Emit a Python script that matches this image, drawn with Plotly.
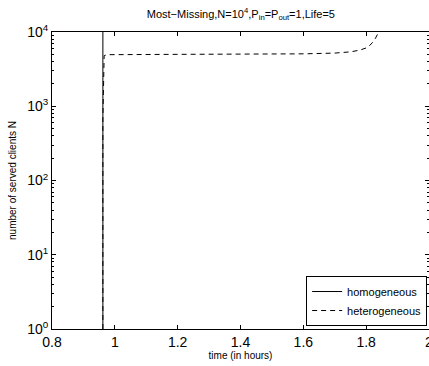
import plotly.graph_objects as go

# Data
hom_x = [0.962, 0.962, 0.962]
hom_y = [1, 5000, 10000]

het_x = [0.962, 0.962, 0.966, 0.975, 1.2, 1.4, 1.6, 1.7, 1.75, 1.78, 1.80, 1.81, 1.82, 1.83, 1.84]
het_y = [1, 700, 4800, 4950, 5000, 5020, 5080, 5200, 5400, 5700, 6100, 6500, 7200, 8300, 10000]

x_ticks = [0.8, 1, 1.2, 1.4, 1.6, 1.8, 2]
x_ticklabels = ["0.8", "1", "1.2", "1.4", "1.6", "1.8", "2"]

y_ticks = [1, 10, 100, 1000, 10000]
y_ticklabels = ["10<sup>0</sup>", "10<sup>1</sup>", "10<sup>2</sup>", "10<sup>3</sup>", "10<sup>4</sup>"]

FONT = "Liberation Sans, Arial, Helvetica, sans-serif"

fig = go.Figure()
fig.add_trace(go.Scatter(x=hom_x, y=hom_y, mode="lines", name="homogeneous",
                         line=dict(color="black", width=1, dash="solid")))
fig.add_trace(go.Scatter(x=het_x, y=het_y, mode="lines", name="heterogeneous",
                         line=dict(color="black", width=1, dash="5px,4px")))

fig.update_layout(
    width=429, height=366,
    margin=dict(l=52, r=0, t=32, b=37),
    paper_bgcolor="white", plot_bgcolor="white",
    font=dict(family=FONT, color="black"),
    showlegend=True,
    legend=dict(x=0.995, y=0.01, xanchor="right", yanchor="bottom",
                bgcolor="white", bordercolor="black", borderwidth=1,
                font=dict(size=11, family=FONT), tracegroupgap=0,
                itemwidth=30),
    title=dict(text="Most\u2212Missing,N=10<sup>4</sup>,P<sub>in</sub>=P<sub>out</sub>=1,Life=5",
               x=0.5615, xanchor="center", y=1 - 14 / 366, yanchor="middle",
               font=dict(size=11, family=FONT)),
)

fig.update_xaxes(
    range=[0.8, 2], tickvals=x_ticks, ticktext=x_ticklabels,
    showline=True, linecolor="black", linewidth=1, mirror="ticks",
    ticks="inside", ticklen=4, tickcolor="black",
    showgrid=False, zeroline=False,
    tickfont=dict(size=14, family=FONT),
    title=dict(text="time (in hours)", font=dict(size=10, family=FONT), standoff=2),
)
fig.update_yaxes(
    type="log", range=[0, 4], tickvals=y_ticks, ticktext=y_ticklabels,
    showline=True, linecolor="black", linewidth=1, mirror="ticks",
    ticks="inside", ticklen=4, tickcolor="black",
    minor=dict(ticks="inside", ticklen=2, tickcolor="black", showgrid=False, dtick="D1"),
    showgrid=False, zeroline=False,
    tickfont=dict(size=14, family=FONT),
    title=dict(text="number of served clients N", font=dict(size=10, family=FONT), standoff=8),
)

# last x tick label, clipped at the right edge as in the reference
fig.add_annotation(x=x_ticks[-1], xref="x", y=0, yref="paper", yshift=-3,
                   text=x_ticklabels[-1], showarrow=False, xanchor="center", yanchor="top",
                   font=dict(size=14, family=FONT, color="black"))

fig.write_html("out.html")
